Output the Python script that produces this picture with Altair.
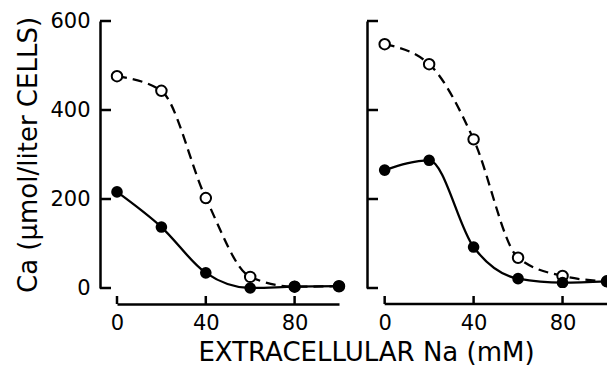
import altair as alt
import pandas as pd

na = [0, 20, 40, 60, 80, 100]
left_open = [476, 443, 202, 25, 3, 4]
left_filled = [216, 137, 34, 0, 3, 4]
right_open = [548, 503, 334, 68, 27, 15]
right_filled = [265, 287, 92, 21, 12, 15]
y_ticks = [0, 200, 400, 600]
x_ticks = [0, 40, 80]
x_range = [0, 100]
y_title = "Ca (μmol/liter CELLS)"
x_title = "EXTRACELLULAR Na (mM)"

FONT = "DejaVu Sans"
H = 267
PX = 2.22  # pixels per mM


def panel(open_vals, filled_vals, first):
    d_open = pd.DataFrame({"na": na, "ca": open_vals})
    d_filled = pd.DataFrame({"na": na, "ca": filled_vals})
    d_yt = pd.DataFrame({"ca": y_ticks})
    d_xt = pd.DataFrame({"na": x_ticks})
    lo = 0 if first else -3
    width = round((x_range[1] - lo) * PX)
    yoff = 17 if first else 11
    xs = alt.Scale(domain=[lo, x_range[1]], nice=False, zero=False)
    ys = alt.Scale(domain=[0, 600], nice=False)
    xaxis_kw = dict(values=x_ticks, ticks=False, offset=16, domainWidth=2.5,
                    domainColor="black", labelFontSize=21, labelPadding=8,
                    labelFlush=False, grid=False, labelFont=FONT, labelColor="black")
    if first:
        xaxis = alt.Axis(title=x_title, titleFontSize=26, titleFont=FONT,
                         titleFontWeight="normal", titleColor="black",
                         titlePadding=6, titleX=249, titleAlign="center",
                         **xaxis_kw)
        yaxis = alt.Axis(values=y_ticks, ticks=False, offset=yoff, domainWidth=2.5,
                         domainColor="black", labelFontSize=21, labelPadding=10,
                         labelFlush=False, title=y_title, titleFontSize=26, titleFont=FONT,
                         titleFontWeight="normal", titleColor="black", titlePadding=8,
                         grid=False, labelFont=FONT, labelColor="black")
    else:
        xaxis = alt.Axis(title=None, domain=False, **xaxis_kw)
        yaxis = alt.Axis(values=y_ticks, ticks=False, offset=yoff, labels=False,
                         domainWidth=2.5, domainColor="black", title=None, grid=False)
    X = alt.X("na:Q", scale=xs, axis=xaxis)
    Y = alt.Y("ca:Q", scale=ys, axis=yaxis)
    clip = not first

    open_line = alt.Chart(d_open).mark_line(
        interpolate="monotone", color="black", strokeWidth=2.3, strokeDash=[10, 6],
        clip=clip
    ).encode(x=X, y=Y)
    filled_line = alt.Chart(d_filled).mark_line(
        interpolate="monotone", color="black", strokeWidth=2.3, clip=clip
    ).encode(x=X, y=Y)
    filled_pts = alt.Chart(d_filled).mark_point(
        shape="circle", filled=True, color="black", size=135, opacity=1, clip=clip
    ).encode(x=X, y=Y)
    open_pts = alt.Chart(d_open).mark_point(
        shape="circle", filled=True, fill="white", stroke="black", strokeWidth=2,
        size=110, opacity=1, clip=clip
    ).encode(x=X, y=Y)
    ytick = alt.Chart(d_yt).mark_rule(color="black", strokeWidth=2.5).encode(
        y=Y, x=alt.value(-yoff), x2=alt.value(-yoff + 11)
    )
    xtick = alt.Chart(d_xt).mark_rule(color="black", strokeWidth=2.5).encode(
        x=X, y=alt.value(H + 16), y2=alt.value(H + 8)
    )
    layers = [ytick, xtick]
    if not first:
        xline = alt.Chart(pd.DataFrame({"a": [x_range[0]], "b": [x_range[1]]})).mark_rule(
            color="black", strokeWidth=2.5
        ).encode(x=alt.X("a:Q", scale=xs, axis=xaxis), x2="b:Q", y=alt.value(H + 16))
        layers.append(xline)
    layers += [open_line, filled_line, open_pts, filled_pts]
    return alt.layer(*layers).properties(width=width, height=H)


left = panel(left_open, left_filled, True)
right = panel(right_open, right_filled, False)

chart = alt.hconcat(left, right, spacing=39, bounds="flush").properties(
    padding={"left": 15, "top": 10, "right": 0, "bottom": 0},
).configure_view(stroke=None)

chart.save("out.html", embed_options={"renderer": "svg", "actions": False})
